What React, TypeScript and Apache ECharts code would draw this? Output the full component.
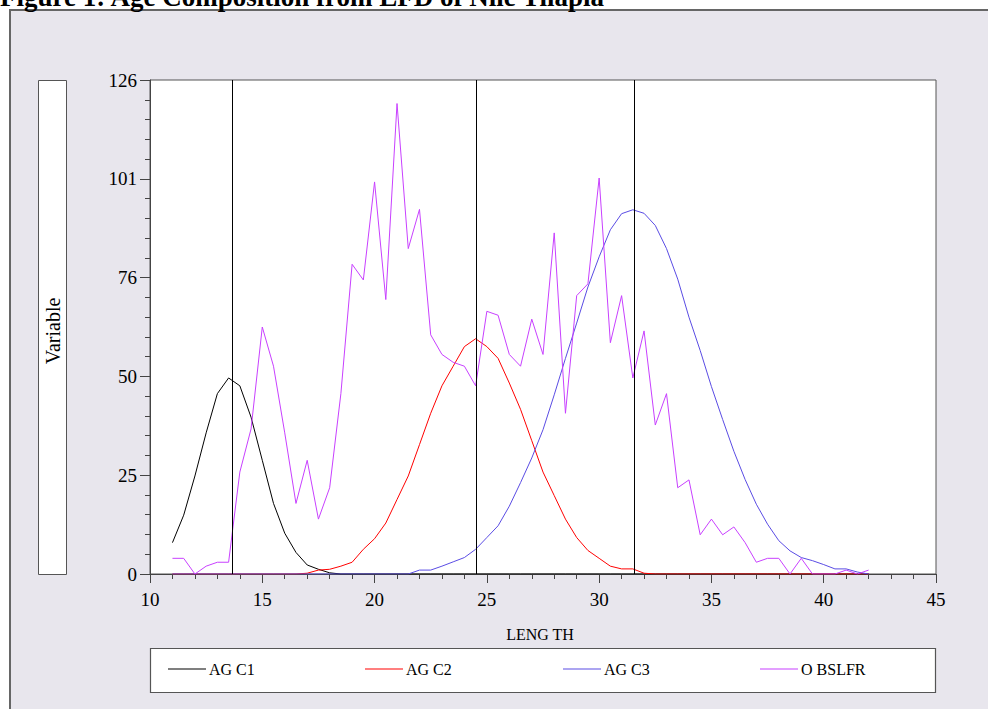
import React, { useEffect, useRef } from "react";
import * as echarts from "echarts";

const lengths = [
  11, 11.5, 12, 12.5, 13, 13.5, 14, 14.5, 15, 15.5, 16, 16.5, 17, 17.5, 18, 18.5,
  19, 19.5, 20, 20.5, 21, 21.5, 22, 22.5, 23, 23.5, 24, 24.5, 25, 25.5, 26, 26.5,
  27, 27.5, 28, 28.5, 29, 29.5, 30, 30.5, 31, 31.5, 32, 32.5, 33, 33.5, 34, 34.5,
  35, 35.5, 36, 36.5, 37, 37.5, 38, 38.5, 39, 39.5, 40, 40.5, 41, 41.5, 42,
];

const agc1 = [
  8, 15, 25, 36, 46, 50, 48, 40, 29, 18, 10.4, 5.5, 2.3, 1.2, 0.3, 0,
  0, 0, 0, 0, 0, 0, 0, 0, 0, 0, 0, 0, 0, 0, 0, 0,
  0, 0, 0, 0, 0, 0, 0, 0, 0, 0, 0, 0, 0, 0, 0, 0,
  0, 0, 0, 0, 0, 0, 0, 0, 0, 0, 0, 0, 0, 0, 0,
];

const agc2 = [
  0, 0, 0, 0, 0, 0, 0, 0, 0, 0, 0, 0, 0.2, 1, 1.2, 2,
  3, 6.3, 9, 13, 19, 25, 33, 41, 48, 53, 58, 60, 58, 55, 48.7, 42,
  34, 26, 20, 14, 9.3, 6, 4, 2, 1.3, 1.3, 0.2, 0, 0, 0, 0, 0,
  0, 0, 0, 0, 0, 0, 0, 0, 0, 0, 0, 0, 0, 0, 0,
];

const agc3 = [
  0, 0, 0, 0, 0, 0, 0, 0, 0, 0, 0, 0, 0, 0, 0, 0,
  0, 0, 0, 0, 0, 0, 1, 1, 2, 3.1, 4.2, 6.3, 9.3, 12.3, 17.3, 23.3,
  29.6, 36.8, 45.7, 55, 64, 73.2, 80.9, 87.8, 91.9, 92.9, 92, 88.9, 83, 75.2, 65.5, 57,
  47.8, 39.4, 31.3, 24.1, 17.8, 12.7, 8.5, 5.9, 4.2, 3.4, 2.4, 1.3, 1.3, 0.5, 0,
];

const obslfr = [
  4, 4, 0, 2, 3, 3, 26, 37, 63, 53, 36, 18, 29, 14, 22, 46,
  79, 75, 100, 70, 120, 83, 93, 61, 56, 54, 53, 48, 67, 66, 56, 53,
  65, 56, 87, 41, 71, 74, 101, 59, 71, 50, 62, 38, 46, 22, 24, 10,
  14, 10, 12, 8, 3, 4, 4, 0, 4, 0, 0, 0, 1, 0, 1,
];

const seriesNames = ["AG C1", "AG C2", "AG C3", "O BSLFR"];
const seriesColors = ["#000000", "#FF0000", "#5A4CE4", "#C840FF"];
const seriesValues = [agc1, agc2, agc3, obslfr];
const refLines = [13.65, 24.53, 31.55];

const titleText = "Figure 1: Age Composition from LFD of Nile Tilapia";
const yLabel = "Variable";
const xLabel = "LENG TH";

const FONT = "'Liberation Serif', 'DejaVu Serif', serif";

export default function App() {
  const ref = useRef<HTMLDivElement>(null);

  useEffect(() => {
    if (!ref.current) return;
    const chart = echarts.init(ref.current, undefined, { renderer: "svg" });

    const series = seriesNames.map((name, i) => {
      const s: any = {
        name,
        type: "line",
        data: lengths.map((x, j) => [x, seriesValues[i][j]]),
        symbol: "none",
        showSymbol: false,
        lineStyle: { color: seriesColors[i], width: 1 },
        itemStyle: { color: seriesColors[i] },
      };
      if (i === 0) {
        s.markLine = {
          silent: true,
          symbol: ["none", "none"],
          label: { show: false },
          lineStyle: { color: "#000", width: 1, type: "solid" },
          data: refLines.map((v) => ({ xAxis: v })),
        };
      }
      return s;
    });

    const legendLefts = [168, 365, 563, 760];
    const legends = seriesNames.map((name, i) => ({
      data: [name],
      left: legendLefts[i],
      top: 661,
      icon: "rect",
      itemWidth: 38,
      itemHeight: 1,
      itemGap: 0,
      padding: 0,
      selectedMode: false,
      textStyle: { color: "#000", fontSize: 16, fontFamily: FONT, padding: [0, 0, 0, -2] },
    }));

    const option: any = {
      animation: false,
      backgroundColor: "#E8E6ED",
      textStyle: { fontFamily: FONT },
      grid: {
        left: 150,
        top: 80,
        right: 52,
        bottom: 135,
        show: true,
        backgroundColor: "#ffffff",
        borderColor: "#555555",
        borderWidth: 1,
      },
      xAxis: {
        type: "value",
        min: 10,
        max: 45,
        interval: 5,
        axisLine: { show: true, onZero: false, lineStyle: { color: "#444", width: 1 } },
        axisTick: { show: true, length: 9, lineStyle: { color: "#444" } },
        minorTick: { show: true, splitNumber: 5, length: 5, lineStyle: { color: "#444" } },
        axisLabel: { color: "#000", fontSize: 19, margin: 16, fontFamily: FONT },
        splitLine: { show: false },
      },
      yAxis: {
        type: "value",
        min: 0,
        max: 126,
        interval: 25.2,
        axisLine: { show: true, lineStyle: { color: "#444", width: 1 } },
        axisTick: { show: true, length: 10, lineStyle: { color: "#444" } },
        minorTick: { show: true, splitNumber: 5, length: 5, lineStyle: { color: "#444" } },
        axisLabel: {
          color: "#000",
          fontSize: 19,
          margin: 13,
          fontFamily: FONT,
          formatter: (v: number) => String(Math.round(v)),
        },
        splitLine: { show: false },
      },
      legend: legends,
      graphic: [
        { type: "rect", shape: { x: 0, y: 0, width: 988, height: 10 }, style: { fill: "#ffffff" } },
        { type: "rect", shape: { x: 0, y: 0, width: 10, height: 709 }, style: { fill: "#ffffff" } },
        {
          type: "polyline",
          shape: { points: [[10, 709], [10, 10], [988, 10]] },
          style: { stroke: "#666666", lineWidth: 2, fill: null },
        },
        {
          type: "text",
          x: 0,
          y: -3,
          style: {
            text: titleText,
            font: `bold 27px ${FONT}`,
            fill: "#000",
            align: "left",
            verticalAlign: "middle",
          },
        },
        {
          type: "rect",
          shape: { x: 38.5, y: 80.5, width: 28, height: 494 },
          style: { fill: "#ffffff", stroke: "#555555", lineWidth: 1 },
        },
        {
          type: "text",
          x: 53,
          y: 331,
          rotation: Math.PI / 2,
          style: {
            text: yLabel,
            font: `20px ${FONT}`,
            fill: "#000",
            align: "center",
            verticalAlign: "middle",
          },
        },
        {
          type: "text",
          x: 540,
          y: 634,
          style: {
            text: xLabel,
            font: `16px ${FONT}`,
            fill: "#000",
            align: "center",
            verticalAlign: "middle",
          },
        },
        {
          type: "rect",
          shape: { x: 150.5, y: 648.5, width: 785, height: 44 },
          style: { fill: "#ffffff", stroke: "#555555", lineWidth: 1.2 },
        },
      ],
      series,
    };

    chart.setOption(option);
    return () => chart.dispose();
  }, []);

  return (
    <div
      ref={ref}
      style={{ position: "absolute", left: 0, top: 0, width: 988, height: 709 }}
    />
  );
}
